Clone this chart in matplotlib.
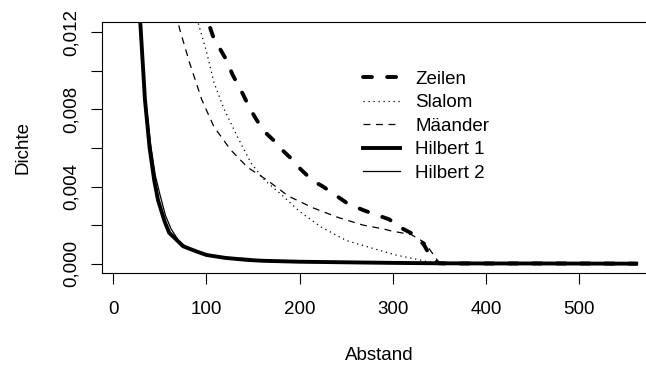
import matplotlib
matplotlib.use("Agg")
import matplotlib.pyplot as plt
from matplotlib.ticker import FixedLocator, FixedFormatter

plt.rcParams['font.family'] = ['Liberation Sans', 'DejaVu Sans']

# ---- data ----
zeilen_x = [95, 102, 107, 115, 121, 128, 139, 146, 152, 161, 172, 179, 192, 201, 214, 225,
            240, 252, 267, 278, 296, 307, 323, 333, 340, 349, 360, 400, 450, 500, 561]
zeilen_y = [0.0134, 0.0125, 0.0118, 0.0111, 0.0106, 0.0098, 0.0088, 0.0081, 0.0076, 0.0069,
            0.0064, 0.0060, 0.0054, 0.0049, 0.0043, 0.0040, 0.0035, 0.0031, 0.0028, 0.0026,
            0.0023, 0.0019, 0.0015, 0.0010, 0.0004, 0.00002, 0.00001, 0.00001, 0.00001,
            0.00001, 0.0]

slalom_x = [85, 91, 100, 108, 119, 133, 148, 163, 180, 200, 223, 250, 278, 303, 320, 338,
            350, 400, 500, 561]
slalom_y = [0.0140, 0.0125, 0.0110, 0.0094, 0.0080, 0.0066, 0.0052, 0.0043, 0.0036, 0.0027,
            0.0019, 0.0012, 0.0008, 0.00045, 0.00028, 0.0001, 0.00002, 0.00001, 0.0, 0.0]

maeander_x = [68, 71, 82, 95, 108, 126, 144, 166, 188, 214, 241, 268, 290, 298, 320, 334,
              343, 350, 400, 500, 561]
maeander_y = [0.0130, 0.0122, 0.0104, 0.0085, 0.0071, 0.0059, 0.0050, 0.0043, 0.0035, 0.0029,
              0.0024, 0.0020, 0.0018, 0.0017, 0.0015, 0.0011, 0.0005, 0.00002, 0.00001, 0.0,
              0.0]

hilbert1_x = [10, 20, 29, 34, 39, 44, 48, 55, 60, 68, 75, 90, 100, 120, 145, 160, 200, 250,
              300, 350, 400, 450, 500, 561]
hilbert1_y = [0.060, 0.030, 0.0125, 0.0085, 0.0060, 0.0043, 0.0033, 0.0022, 0.0016, 0.00123,
              0.00090, 0.00062, 0.00045, 0.00030, 0.00019, 0.00015, 0.00010, 0.00007,
              0.00004, 0.00002, 0.00001, 0.00001, 0.000005, 0.0]

hilbert2_x = [10, 20, 29, 34, 40, 45, 50, 56, 62, 70, 80, 90, 100, 115, 130, 145, 152, 160,
              200, 250, 300, 350, 400, 440, 450, 460, 470, 480, 500, 561]
hilbert2_y = [0.060, 0.030, 0.0126, 0.0088, 0.0062, 0.0046, 0.0036, 0.0025, 0.0018, 0.0012,
              0.0008, 0.0006, 0.00045, 0.00033, 0.00028, 0.00027, 0.00018, 0.00014, 0.00009,
              0.00006, 0.00004, 0.00002, 0.00001, 0.00001, 0.00006, 0.00002, 0.00006,
              0.00001, 0.00001, 0.0]

labels = ["Zeilen", "Slalom", "Mäander", "Hilbert 1", "Hilbert 2"]
xticks = [0, 100, 200, 300, 400, 500]
yticks = [0.000, 0.002, 0.004, 0.006, 0.008, 0.010, 0.012]
ytick_labels = ["0,000", "", "0,004", "", "0,008", "", "0,012"]

FS = 13.5
W, H = 646, 367
fig = plt.figure(figsize=(W / 100, H / 100), dpi=100)
left_px, right_px, top_px, bottom_px = 101.8, 656.7, 21.7, 273.3
ax = fig.add_axes([left_px / W, 1 - bottom_px / H, (right_px - left_px) / W,
                   (bottom_px - top_px) / H])

thick = 2.8
thin = 0.9
ax.plot(zeilen_x, zeilen_y, color='black', lw=thick, linestyle=(0, (2.3, 3.9)),
        dash_capstyle='round', label=labels[0])
ax.plot(slalom_x, slalom_y, color='black', lw=thin, linestyle=(0, (1.0, 3.0)),
        label=labels[1])
ax.plot(maeander_x, maeander_y, color='black', lw=thin, linestyle=(0, (5.5, 4.5)),
        label=labels[2])
ax.plot(hilbert1_x, hilbert1_y, color='black', lw=thick, solid_joinstyle='round',
        label=labels[3])
ax.plot(hilbert2_x, hilbert2_y, color='black', lw=thin, label=labels[4])

ax.set_xlim(-12.3, 583)
ax.set_ylim(-0.0005, 0.01255)

ax.xaxis.set_major_locator(FixedLocator(xticks))
ax.set_xticklabels([str(t) for t in xticks])
ax.yaxis.set_major_locator(FixedLocator(yticks))
ax.yaxis.set_major_formatter(FixedFormatter(ytick_labels))
for lab in ax.get_yticklabels():
    lab.set_rotation(90)
    lab.set_va('center')

ax.tick_params(axis='both', direction='out', length=8, width=0.8, color='black',
               labelsize=FS)
ax.tick_params(axis='x', pad=12)
ax.tick_params(axis='y', pad=8)
for s in ax.spines.values():
    s.set_linewidth(0.8)

ax.set_xlabel("Abstand", fontsize=FS, va='center')
ax.xaxis.set_label_coords(0.5, (bottom_px - 355) / (bottom_px - top_px))
ax.set_ylabel("Dichte", fontsize=FS, va='center')
ax.yaxis.set_label_coords((22.7 - left_px) / (right_px - left_px), 0.5)

leg = fig.legend(loc='upper left', bbox_to_anchor=(362.6 / W, 1 - 70.5 / H),
                 frameon=False, fontsize=FS, handlelength=2.0, handletextpad=0.8,
                 labelspacing=0.34, borderpad=0, borderaxespad=0)

fig.savefig("out.png", dpi=100)
